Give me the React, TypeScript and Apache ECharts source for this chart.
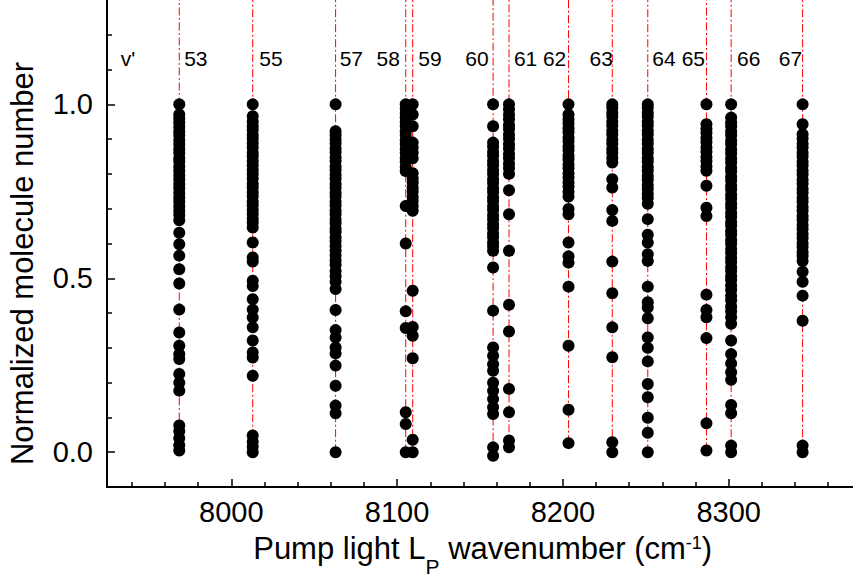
import { useEffect, useRef } from "react";
import * as echarts from "echarts";

// Wavenumber (cm^-1) of each transition line / column of points
const transitionWavenumbers = [
  7968.6, 8012.9, 8062.9, 8105.2, 8109.4, 8157.9, 8167.5, 8203.4, 8229.8, 8251.2, 8286.6, 8301.5, 8344.6,
];

// Normalized molecule number, one array per column
const col53 = [
  1.0, 0.971, 0.959, 0.948, 0.935, 0.922, 0.911, 0.897, 0.885, 0.872, 0.861, 0.846, 0.836, 0.821, 0.809,
  0.796, 0.784, 0.77, 0.759, 0.745, 0.732, 0.721, 0.707, 0.694, 0.682, 0.667, 0.631, 0.598, 0.565, 0.526,
  0.485, 0.41, 0.344, 0.306, 0.282, 0.268, 0.225, 0.2, 0.177, 0.077, 0.06, 0.04, 0.02, 0.005,
];
const col55 = [
  1.0, 0.966, 0.951, 0.937, 0.926, 0.912, 0.901, 0.888, 0.876, 0.861, 0.851, 0.837, 0.825, 0.811, 0.8,
  0.787, 0.772, 0.761, 0.747, 0.736, 0.721, 0.71, 0.696, 0.685, 0.671, 0.66, 0.646, 0.603, 0.56, 0.548,
  0.493, 0.478, 0.44, 0.41, 0.387, 0.359, 0.321, 0.287, 0.272, 0.22, 0.048, 0.03, 0.016, 0.0,
];
const col57 = [
  1.0, 0.923, 0.912, 0.899, 0.888, 0.873, 0.862, 0.848, 0.837, 0.822, 0.811, 0.797, 0.786, 0.771, 0.76,
  0.746, 0.735, 0.72, 0.709, 0.694, 0.684, 0.669, 0.658, 0.643, 0.633, 0.618, 0.607, 0.593, 0.58, 0.566,
  0.551, 0.538, 0.52, 0.506, 0.49, 0.469, 0.409, 0.351, 0.33, 0.301, 0.284, 0.249, 0.191, 0.134, 0.112, 0.0,
];
const col58 = [
  1.0, 0.988, 0.974, 0.963, 0.949, 0.938, 0.923, 0.912, 0.897, 0.886, 0.871, 0.861, 0.846, 0.835, 0.82,
  0.808, 0.708, 0.6, 0.405, 0.357, 0.115, 0.081, 0.0,
];
const col59 = [
  1.0, 0.971, 0.937, 0.89, 0.876, 0.861, 0.845, 0.802, 0.787, 0.775, 0.76, 0.749, 0.734, 0.722, 0.708,
  0.694, 0.464, 0.36, 0.335, 0.27, 0.036, 0.0,
];
const col60 = [
  1.0, 0.937, 0.89, 0.878, 0.863, 0.852, 0.837, 0.826, 0.811, 0.8, 0.785, 0.774, 0.759, 0.748, 0.733,
  0.722, 0.707, 0.696, 0.681, 0.67, 0.655, 0.644, 0.629, 0.618, 0.603, 0.592, 0.579, 0.531, 0.407, 0.301,
  0.277, 0.253, 0.234, 0.2, 0.177, 0.153, 0.129, 0.11, 0.014, -0.01,
];
const col61 = [
  1.0, 0.986, 0.97, 0.957, 0.941, 0.929, 0.913, 0.901, 0.885, 0.873, 0.857, 0.845, 0.829, 0.816, 0.8,
  0.753, 0.684, 0.579, 0.424, 0.347, 0.182, 0.115, 0.034, 0.014,
];
const col62 = [
  1.0, 0.971, 0.957, 0.946, 0.931, 0.92, 0.905, 0.894, 0.879, 0.868, 0.853, 0.842, 0.827, 0.816, 0.801,
  0.79, 0.775, 0.764, 0.749, 0.735, 0.699, 0.684, 0.603, 0.563, 0.545, 0.476, 0.306, 0.122, 0.026,
];
const col63 = [
  1.0, 0.99, 0.976, 0.965, 0.95, 0.939, 0.924, 0.913, 0.898, 0.887, 0.872, 0.861, 0.846, 0.833, 0.785,
  0.761, 0.696, 0.665, 0.548, 0.457, 0.359, 0.273, 0.029, 0.0,
];
const col64 = [
  1.0, 0.99, 0.976, 0.965, 0.95, 0.939, 0.924, 0.913, 0.898, 0.887, 0.872, 0.861, 0.846, 0.835, 0.82,
  0.809, 0.794, 0.783, 0.768, 0.757, 0.742, 0.731, 0.714, 0.67, 0.625, 0.603, 0.569, 0.55, 0.476, 0.431,
  0.416, 0.385, 0.33, 0.3, 0.261, 0.196, 0.158, 0.099, 0.056, 0.0,
];
const col65 = [
  1.0, 0.943, 0.929, 0.918, 0.903, 0.891, 0.876, 0.864, 0.849, 0.837, 0.821, 0.809, 0.766, 0.703, 0.679,
  0.453, 0.409, 0.388, 0.328, 0.083, 0.005,
];
const col66 = [
  1.0, 0.962, 0.948, 0.937, 0.922, 0.911, 0.896, 0.885, 0.87, 0.859, 0.844, 0.833, 0.818, 0.807, 0.792,
  0.781, 0.766, 0.755, 0.74, 0.729, 0.714, 0.703, 0.688, 0.677, 0.662, 0.651, 0.636, 0.625, 0.61, 0.599,
  0.584, 0.573, 0.558, 0.547, 0.532, 0.521, 0.506, 0.495, 0.479, 0.466, 0.45, 0.437, 0.419, 0.405, 0.388,
  0.369, 0.321, 0.282, 0.255, 0.23, 0.208, 0.136, 0.112, 0.019, 0.0,
];
const col67 = [
  1.0, 0.943, 0.914, 0.902, 0.887, 0.876, 0.861, 0.85, 0.835, 0.824, 0.809, 0.798, 0.783, 0.772, 0.757,
  0.746, 0.731, 0.72, 0.705, 0.694, 0.679, 0.668, 0.653, 0.642, 0.627, 0.616, 0.601, 0.59, 0.575, 0.564,
  0.55, 0.519, 0.49, 0.45, 0.378, 0.019, 0.0,
];
const columns = [col53, col55, col57, col58, col59, col60, col61, col62, col63, col64, col65, col66, col67];

// Vibrational quantum number annotations
const vLabels = ["v'", "53", "55", "57", "58", "59", "60", "61", "62", "63", "64", "65", "66", "67"];
const vLabelX = [
  7937.7, 7978.6, 8023.9, 8072.4, 8094.6, 8119.8, 8148.2, 8177.5, 8195.0, 8223.1, 8261.0, 8278.7, 8312.1, 8337.3,
];
const vLabelY = 1.133;

// Axes
const xMin = 7925;
const xMax = 8375;
const yMin = -0.1;
const yMax = 1.3;
const xMajorTicks = [8000, 8100, 8200, 8300];
const xMinorTicks = [
  7940, 7960, 7980, 8020, 8040, 8060, 8080, 8120, 8140, 8160, 8180, 8220, 8240, 8260, 8280, 8320, 8340, 8360,
];
const yMajorTicks = [0, 0.5, 1.0];
const yMinorTicks = [0.1, 0.2, 0.3, 0.4, 0.6, 0.7, 0.8, 0.9, 1.1, 1.2];

const FONT = '"Liberation Sans", Arial, Helvetica, sans-serif';

export default function App() {
  const ref = useRef<HTMLDivElement>(null);

  useEffect(() => {
    if (!ref.current) return;
    const chart = echarts.init(ref.current, null, { renderer: "svg" });

    const points = columns.flatMap((col, i) => col.map((v) => [transitionWavenumbers[i], v]));

    const lineSeries = columns.map((col, i) => ({
      type: "line",
      data: [
        [transitionWavenumbers[i], Math.min(...col)],
        [transitionWavenumbers[i], yMax],
      ],
      symbol: "none",
      silent: true,
      z: 1,
      lineStyle: { color: "#ff0000", width: 1, type: [8, 2.5, 2, 2.5] },
    }));

    const axisBase = {
      type: "value",
      splitLine: { show: false },
    };

    chart.setOption({
      animation: false,
      backgroundColor: "#ffffff",
      grid: { left: 107, top: -1, width: 753, height: 488, containLabel: false },
      xAxis: [
        {
          ...axisBase,
          min: xMin,
          max: xMax,
          position: "bottom",
          axisLine: { show: true, onZero: false, lineStyle: { color: "#000", width: 2 } },
          axisTick: { show: true, inside: true, length: 8, customValues: xMajorTicks, lineStyle: { color: "#000", width: 1.5 } },
          axisLabel: {
            show: true,
            customValues: xMajorTicks,
            fontSize: 29,
            color: "#000",
            fontFamily: FONT,
            margin: 10,
            formatter: (v: number) => String(v),
          },
        },
        {
          ...axisBase,
          min: xMin,
          max: xMax,
          position: "bottom",
          axisLine: { show: false, onZero: false },
          axisTick: { show: true, inside: true, length: 5, customValues: xMinorTicks, lineStyle: { color: "#000", width: 1.5 } },
          axisLabel: { show: false },
        },
      ],
      yAxis: [
        {
          ...axisBase,
          min: yMin,
          max: yMax,
          position: "left",
          axisLine: { show: true, onZero: false, lineStyle: { color: "#000", width: 2 } },
          axisTick: { show: true, inside: true, length: 8, customValues: yMajorTicks, lineStyle: { color: "#000", width: 1.5 } },
          axisLabel: {
            show: true,
            customValues: yMajorTicks,
            fontSize: 29,
            color: "#000",
            fontFamily: FONT,
            margin: 14,
            formatter: (v: number) => v.toFixed(1),
          },
        },
        {
          ...axisBase,
          min: yMin,
          max: yMax,
          position: "left",
          axisLine: { show: false, onZero: false },
          axisTick: { show: true, inside: true, length: 5, customValues: yMinorTicks, lineStyle: { color: "#000", width: 1.5 } },
          axisLabel: { show: false },
        },
      ],
      graphic: [
        {
          type: "text",
          x: 22.6,
          y: 263.5,
          rotation: Math.PI / 2,
          style: {
            text: "Normalized molecule number",
            fontSize: 31,
            fontFamily: FONT,
            fill: "#000",
            align: "center",
            verticalAlign: "middle",
          },
        },
        {
          type: "text",
          x: 482.7,
          y: 548.6,
          style: {
            text: "{m|Pump light L}{s|P}{m| wavenumber (cm}{u|-1}{m|)}",
            fill: "#000",
            align: "center",
            verticalAlign: "middle",
            rich: {
              m: { fontSize: 31, fontFamily: FONT, lineHeight: 60, height: 60, fill: "#000" },
              s: { fontSize: 21, fontFamily: FONT, lineHeight: 24, height: 24, verticalAlign: "bottom", fill: "#000" },
              u: { fontSize: 18, fontFamily: FONT, lineHeight: 48, height: 48, verticalAlign: "top", fill: "#000" },
            },
          },
        },
      ],
      series: [
        ...lineSeries,
        {
          type: "scatter",
          data: points,
          symbol: "circle",
          symbolSize: 12,
          itemStyle: { color: "#000", opacity: 1 },
          z: 10,
          silent: true,
        },
        {
          type: "scatter",
          data: vLabelX.map((x, i) => ({ value: [x, vLabelY], name: vLabels[i] })),
          symbolSize: 0,
          itemStyle: { color: "transparent", opacity: 1 },
          z: 11,
          silent: true,
          label: {
            show: true,
            position: "inside",
            formatter: "{b}",
            fontSize: 21,
            fontFamily: FONT,
            color: "#000",
            opacity: 1,
          },
        },
      ],
    });

    return () => chart.dispose();
  }, []);

  return (
    <div
      ref={ref}
      style={{ position: "fixed", left: 0, top: 0, width: 853, height: 577, background: "#fff" }}
    />
  );
}
